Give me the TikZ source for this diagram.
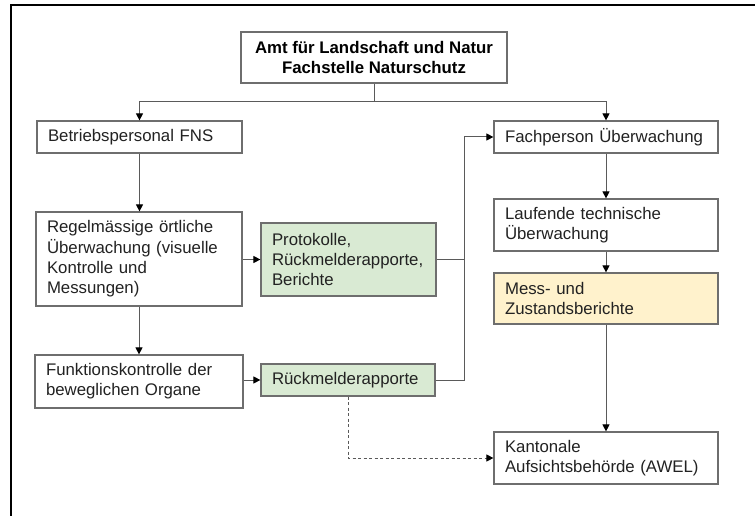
\documentclass[tikz,border=0pt]{standalone}
\usepackage{fontspec}
\setmainfont{Liberation Sans}
\usetikzlibrary{arrows.meta}
\definecolor{boxline}{HTML}{6E6E6E}
\definecolor{conn}{HTML}{5A5A5A}
\definecolor{greenfill}{HTML}{D9EAD3}
\definecolor{yellowfill}{HTML}{FFF2CC}
\definecolor{txt}{HTML}{222222}
\tikzset{
  box/.style={rectangle, draw=boxline, line width=1.2pt, fill=white, inner xsep=11pt, inner ysep=0pt,
    align=left, font=\fontsize{16.8}{20.3}\selectfont, text=txt},
  titlebox/.style={box, align=center, font=\bfseries\fontsize{16.8}{20.6}\selectfont, text=black},
  greenbox/.style={box, fill=greenfill},
  yellowbox/.style={box, fill=yellowfill},
  conline/.style={draw=conn, line width=1pt},
  arr/.style={conline, -{Triangle[length=7pt,width=7pt,color=black]}},
  dasharr/.style={arr, dash pattern=on 3pt off 2.5pt},
}
\begin{document}
\begin{tikzpicture}[x=1pt,y=-1pt]
\useasboundingbox (0,0) rectangle (755,516);
\fill[white] (0,0) rectangle (755,516);
% outer frame (top and left only)
\draw[black, line width=2pt] (11,516) -- (11,5) -- (755,5);

\node[titlebox, minimum width=266pt, minimum height=51pt] (top) at (374,57.5) {Amt für Landschaft und Natur\\Fachstelle Naturschutz};

\node[box, minimum width=205pt, minimum height=32pt, text width=183pt] (betrieb) at (139.5,137) {Betriebspersonal FNS};
\node[box, minimum width=206pt, minimum height=94pt, text width=184pt] (regel) at (139,259) {Regelmässige örtliche\\Überwachung (visuelle\\Kontrolle und\\Messungen)};
\node[box, minimum width=208pt, minimum height=53pt, text width=186pt] (funk) at (139,381.5) {Funktionskontrolle der\\beweglichen Organe};

\node[greenbox, minimum width=175pt, minimum height=73pt, text width=153pt] (prot) at (348.5,259.5) {Protokolle,\\Rückmelderapporte,\\Berichte};
\node[greenbox, minimum width=174pt, minimum height=32pt, text width=152pt] (rueck) at (348,380) {Rückmelderapporte};

\node[box, minimum width=224pt, minimum height=32pt, text width=202pt] (fach) at (606,137) {Fachperson Überwachung};
\node[box, minimum width=224pt, minimum height=52pt, text width=202pt] (lauf) at (606,225) {Laufende technische\\Überwachung};
\node[yellowbox, minimum width=224pt, minimum height=51pt, text width=202pt] (mess) at (606,298.5) {Mess- und\\Zustandsberichte};
\node[box, minimum width=224pt, minimum height=52pt, text width=202pt] (kant) at (606,458) {Kantonale\\Aufsichtsbehörde (AWEL)};

% connectors
\coordinate (hub) at (374,102);
\coordinate (jtop) at (464,137);
\coordinate (jprot) at (464,259.5);
\coordinate (jrueck) at (464,380);

\draw[conline] (top.south) -- (hub);
\draw[arr] (hub) -| (betrieb.north);
\draw[arr] (hub) -| (fach.north);

\draw[arr] (betrieb.south) -- (betrieb.south |- regel.north);
\draw[arr] (regel.south) -- (regel.south |- funk.north);
\draw[arr] (prot.west -| regel.east) -- (prot.west);
\draw[arr] (funk.east |- rueck.west) -- (rueck.west);

\draw[conline] (prot.east) -- (jprot);
\draw[arr] (rueck.east) -- (jrueck) -- (jtop) -- (fach.west);

\draw[arr] (fach.south) -- (lauf.north);
\draw[arr] (lauf.south) -- (mess.north);
\draw[arr] (mess.south) -- (kant.north);

\draw[dasharr] (rueck.south) |- (kant.west);
\end{tikzpicture}
\end{document}
